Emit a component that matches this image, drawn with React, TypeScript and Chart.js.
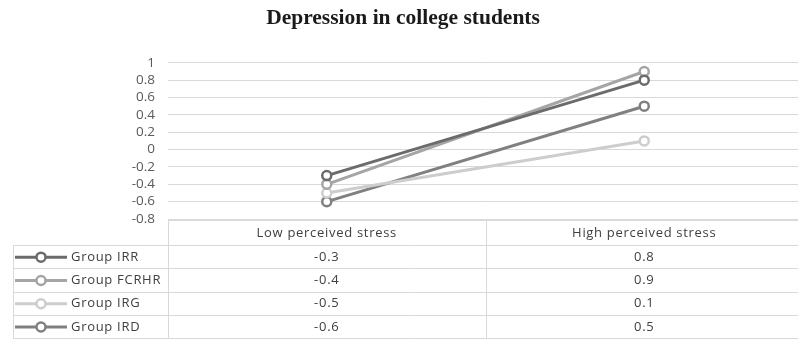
import { useEffect, useRef } from "react";
import { Chart, registerables } from "chart.js";

Chart.register(...registerables);

// Chart data
const categories = ["Low perceived stress", "High perceived stress"];
const groupNames = ["Group IRR", "Group FCRHR", "Group IRG", "Group IRD"];
const groupIRR = [-0.3, 0.8];
const groupFCRHR = [-0.4, 0.9];
const groupIRG = [-0.5, 0.1];
const groupIRD = [-0.6, 0.5];
const seriesValues = [groupIRR, groupFCRHR, groupIRG, groupIRD];
const seriesColors = ["#6b6b6b", "#a5a5a5", "#cdcdcd", "#808080"];
const yMin = -0.8;
const yMax = 1;
const yStep = 0.2;

const TEXT_COLOR = "#404040";
const RULE_COLOR = "#d9d9d9";
const UI_FONT = "'Open Sans', 'DejaVu Sans', sans-serif";

// Draws the data table (header + one row per group) under the plot area,
// aligned with the category bands of the x scale.
const dataTablePlugin = {
  id: "dataTable",
  afterDraw(chart: any) {
    const { ctx, chartArea, scales } = chart;
    const xs = scales.x;
    const n = categories.length;
    const band = (xs.right - xs.left) / n;
    const top = Math.round(chartArea.bottom) + 1;
    const headerH = 25;
    const rowH = 23.3;
    const tableLeft = 13;
    const right = chart.width;
    const bottom = top + headerH + rowH * groupNames.length;

    ctx.save();
    ctx.strokeStyle = RULE_COLOR;
    ctx.lineWidth = 1;
    const hLine = (x0: number, x1: number, y: number) => {
      const yy = Math.round(y) + 0.5;
      ctx.beginPath();
      ctx.moveTo(x0, yy);
      ctx.lineTo(x1, yy);
      ctx.stroke();
    };
    const vLine = (x: number, y0: number, y1: number) => {
      const xx = Math.round(x) + 0.5;
      ctx.beginPath();
      ctx.moveTo(xx, y0);
      ctx.lineTo(xx, y1);
      ctx.stroke();
    };

    // header row frame
    hLine(xs.left, right, top);
    for (let i = 0; i <= n; i++) vLine(xs.left + band * i, top, bottom);
    // group rows frame
    for (let r = 0; r <= groupNames.length; r++) {
      hLine(tableLeft, right, top + headerH + rowH * r);
    }
    vLine(tableLeft, top + headerH, bottom);

    ctx.font = `13px ${UI_FONT}`;
    (ctx as any).letterSpacing = "0.7px";
    ctx.fillStyle = TEXT_COLOR;
    ctx.textBaseline = "middle";
    ctx.textAlign = "center";
    categories.forEach((c, i) => {
      ctx.fillText(c, xs.getPixelForValue(i), top + headerH / 2 + 0.5);
    });

    groupNames.forEach((name, r) => {
      const cy = top + headerH + rowH * r + rowH / 2 + 0.5;
      // legend key
      ctx.strokeStyle = seriesColors[r];
      ctx.lineWidth = 3;
      ctx.beginPath();
      ctx.moveTo(15, cy);
      ctx.lineTo(67, cy);
      ctx.stroke();
      ctx.beginPath();
      ctx.arc(41, cy, 4.5, 0, Math.PI * 2);
      ctx.fillStyle = "#ffffff";
      ctx.fill();
      ctx.lineWidth = 2.5;
      ctx.stroke();

      ctx.fillStyle = TEXT_COLOR;
      ctx.textAlign = "left";
      ctx.fillText(name, 71, cy);
      ctx.textAlign = "center";
      seriesValues[r].forEach((v, i) => {
        ctx.fillText(String(v), xs.getPixelForValue(i), cy);
      });
    });
    ctx.restore();
  },
};

export default function App() {
  const canvasRef = useRef<HTMLCanvasElement | null>(null);

  useEffect(() => {
    const canvas = canvasRef.current;
    if (!canvas) return;
    const chart = new Chart(canvas, {
      type: "line",
      data: {
        labels: categories,
        datasets: groupNames.map((name, i) => ({
          label: name,
          data: seriesValues[i],
          borderColor: seriesColors[i],
          backgroundColor: "#ffffff",
          borderWidth: 3,
          pointRadius: 4.5,
          pointBorderWidth: 2.5,
          pointBackgroundColor: "#ffffff",
          pointBorderColor: seriesColors[i],
          tension: 0,
        })),
      },
      options: {
        responsive: false,
        animation: false,
        layout: { padding: { left: 0, right: 4, top: 0, bottom: 121 } },
        plugins: {
          legend: { display: false },
          tooltip: { enabled: false },
          title: {
            display: true,
            text: "Depression in college students",
            color: "#1a1a1a",
            font: { family: "'Liberation Serif', 'Times New Roman', serif", size: 21.5, weight: "bold" },
            padding: { top: 6, bottom: 31 },
          },
        },
        scales: {
          x: {
            type: "category",
            offset: true,
            display: false,
          },
          y: {
            min: yMin,
            max: yMax,
            border: { display: false },
            grid: { color: RULE_COLOR, drawTicks: false, lineWidth: 1 },
            ticks: {
              stepSize: yStep,
              autoSkip: false,
              padding: 13,
              color: "#595959",
              font: { family: UI_FONT, size: 13.5 },
              callback: (v: any) => String(Number(Number(v).toFixed(1))),
            },
            afterFit: (scale: any) => {
              scale.width = 168;
            },
          },
        },
      },
      plugins: [dataTablePlugin],
    });
    return () => chart.destroy();
  }, []);

  return (
    <div
      style={{
        position: "fixed",
        left: 0,
        top: 0,
        width: 798,
        height: 340,
        overflow: "hidden",
        background: "#ffffff",
      }}
    >
      <canvas ref={canvasRef} width={810} height={340} />
    </div>
  );
}
